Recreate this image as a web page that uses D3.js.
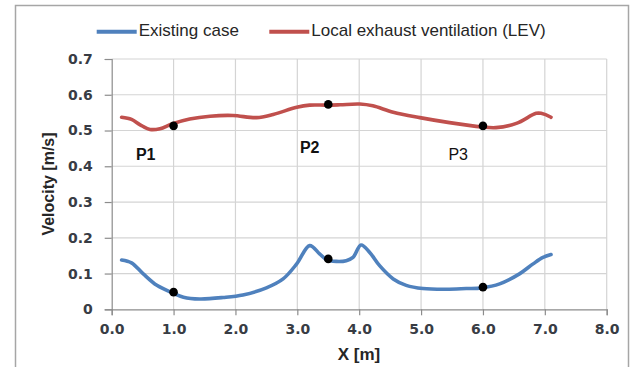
<!DOCTYPE html>
<html>
<head>
<meta charset="utf-8">
<script src="https://cdn.jsdelivr.net/npm/d3@7"></script>
<style>
  html, body { margin: 0; padding: 0; background: #fff; }
  svg { display: block; }
</style>
</head>
<body>
<svg id="chart" width="631" height="367"></svg>
<script>
// ---- data ----
const xTicks = [0, 1, 2, 3, 4, 5, 6, 7, 8];
const yTicks = [0, 0.1, 0.2, 0.3, 0.4, 0.5, 0.6, 0.7];

const existingX = [0.16, 0.32, 0.51, 0.73, 0.98, 1.16, 1.42, 1.80, 2.12, 2.50, 2.77, 2.99, 3.20, 3.36, 3.47, 3.63, 3.79, 3.90, 4.03, 4.17, 4.33, 4.55, 4.76, 5.03, 5.41, 5.73, 5.98, 6.27, 6.59, 6.81, 6.97, 7.10];
const existingY = [0.138, 0.130, 0.099, 0.067, 0.046, 0.034, 0.029, 0.033, 0.040, 0.060, 0.085, 0.127, 0.178, 0.155, 0.139, 0.134, 0.136, 0.145, 0.180, 0.159, 0.122, 0.085, 0.067, 0.058, 0.056, 0.058, 0.060, 0.071, 0.099, 0.127, 0.145, 0.153];

const levX = [0.16, 0.32, 0.46, 0.62, 0.78, 0.97, 1.26, 1.59, 1.96, 2.34, 2.61, 2.99, 3.20, 3.47, 3.69, 4.01, 4.22, 4.55, 4.98, 5.46, 5.98, 6.21, 6.54, 6.86, 6.94, 7.10];
const levY = [0.537, 0.531, 0.516, 0.503, 0.505, 0.518, 0.532, 0.540, 0.542, 0.536, 0.545, 0.565, 0.571, 0.571, 0.572, 0.574, 0.569, 0.551, 0.536, 0.522, 0.510, 0.508, 0.520, 0.548, 0.548, 0.537];

const pointX = [1.0, 3.5, 6.0, 1.0, 3.5, 6.0];
const pointY = [0.513, 0.573, 0.513, 0.048, 0.141, 0.062];

const labelNames = ["P1", "P2", "P3"];
const labelX = [0.55, 3.2, 5.6];
const labelY = [0.43, 0.448, 0.428];
const labelBold = [true, true, false];

const seriesNames = ["Existing case", "Local exhaust ventilation (LEV)"];
const seriesColors = ["#4F81BD", "#C0504D"];

// ---- drawing ----
const svg = d3.select("#chart");
const pLeft = 111.7, pRight = 606.7, pTop = 59, pBottom = 309.3;
const x = d3.scaleLinear().domain([0, 8]).range([pLeft, pRight]);
const y = d3.scaleLinear().domain([0, 0.7]).range([pBottom, pTop]);

// outer border
svg.append("rect").attr("x", 15.5).attr("y", 5.5).attr("width", 613).attr("height", 380)
  .attr("fill", "none").attr("stroke", "#a6a6a6").attr("stroke-width", 1.5);

// gridlines
svg.append("g").selectAll("line").data(xTicks.slice(1)).join("line")
  .attr("x1", d => x(d)).attr("x2", d => x(d)).attr("y1", pTop).attr("y2", pBottom)
  .attr("stroke", "#d4d4d4").attr("stroke-width", 1.2);
svg.append("g").selectAll("line").data(yTicks.slice(1)).join("line")
  .attr("x1", pLeft).attr("x2", pRight).attr("y1", d => y(d)).attr("y2", d => y(d))
  .attr("stroke", "#d4d4d4").attr("stroke-width", 1.2);

// axes
const tickFont = "DejaVu Sans, Verdana, sans-serif";
const xAxis = svg.append("g").attr("transform", `translate(0,${pBottom})`)
  .call(d3.axisBottom(x).tickValues(xTicks).tickFormat(d3.format(".1f")).tickSize(6).tickPadding(9));
const yAxis = svg.append("g").attr("transform", `translate(${pLeft},0)`)
  .call(d3.axisLeft(y).tickValues(yTicks).tickFormat(d => d === 0 ? "0" : d3.format(".1f")(d)).tickSize(7).tickPadding(12));
[xAxis, yAxis].forEach(a => {
  a.select(".domain").attr("stroke", "#8c8c8c").attr("stroke-width", 1.2);
  a.selectAll(".tick line").attr("stroke", "#8c8c8c").attr("stroke-width", 1.2);
  a.selectAll(".tick text").attr("font-family", tickFont).attr("font-size", 14)
    .attr("font-weight", "bold").attr("fill", "#383c44");
});

// axis titles
svg.append("text").attr("x", 359).attr("y", 356).attr("text-anchor", "middle")
  .attr("dominant-baseline", "middle")
  .attr("font-family", "Liberation Sans, Arial, sans-serif").attr("font-size", 17).attr("font-weight", "bold")
  .attr("fill", "#262626").text("X [m]");
svg.append("text").attr("transform", "translate(50,184) rotate(-90)").attr("text-anchor", "middle")
  .attr("dominant-baseline", "middle")
  .attr("font-family", "Liberation Sans, Arial, sans-serif").attr("font-size", 16).attr("font-weight", "bold")
  .attr("fill", "#262626").text("Velocity [m/s]");

// lines
const line = d3.line().x(d => x(d[0])).y(d => y(d[1])).curve(d3.curveCatmullRom.alpha(0.5));
const series = [d3.zip(existingX, existingY), d3.zip(levX, levY)];
series.forEach((s, i) => {
  svg.append("path").datum(s).attr("d", line).attr("fill", "none")
    .attr("stroke", seriesColors[i]).attr("stroke-width", 3.6)
    .attr("stroke-linecap", "round").attr("stroke-linejoin", "round");
});

// points
svg.append("g").selectAll("circle").data(d3.zip(pointX, pointY)).join("circle")
  .attr("cx", d => x(d[0])).attr("cy", d => y(d[1])).attr("r", 4.3).attr("fill", "#000");

// point labels
svg.append("g").selectAll("text").data(d3.range(labelNames.length)).join("text")
  .attr("x", i => x(labelX[i])).attr("y", i => y(labelY[i]))
  .attr("text-anchor", "middle").attr("dominant-baseline", "middle")
  .attr("font-family", "Liberation Sans, Arial, sans-serif").attr("font-size", 16)
  .attr("font-weight", i => labelBold[i] ? "bold" : "normal").attr("fill", "#111")
  .text(i => labelNames[i]);

// legend
const legendX = [96.7, 269.3];
const lg = svg.append("g");
seriesNames.forEach((name, i) => {
  lg.append("line").attr("x1", legendX[i]).attr("x2", legendX[i] + 40).attr("y1", 31.7).attr("y2", 31.7)
    .attr("stroke", seriesColors[i]).attr("stroke-width", 4);
  lg.append("text").attr("x", legendX[i] + 42).attr("y", 32).attr("dominant-baseline", "middle")
    .attr("font-family", "Liberation Sans, Arial, sans-serif").attr("font-size", 17)
    .attr("fill", "#262626").text(name);
});
</script>
</body>
</html>
